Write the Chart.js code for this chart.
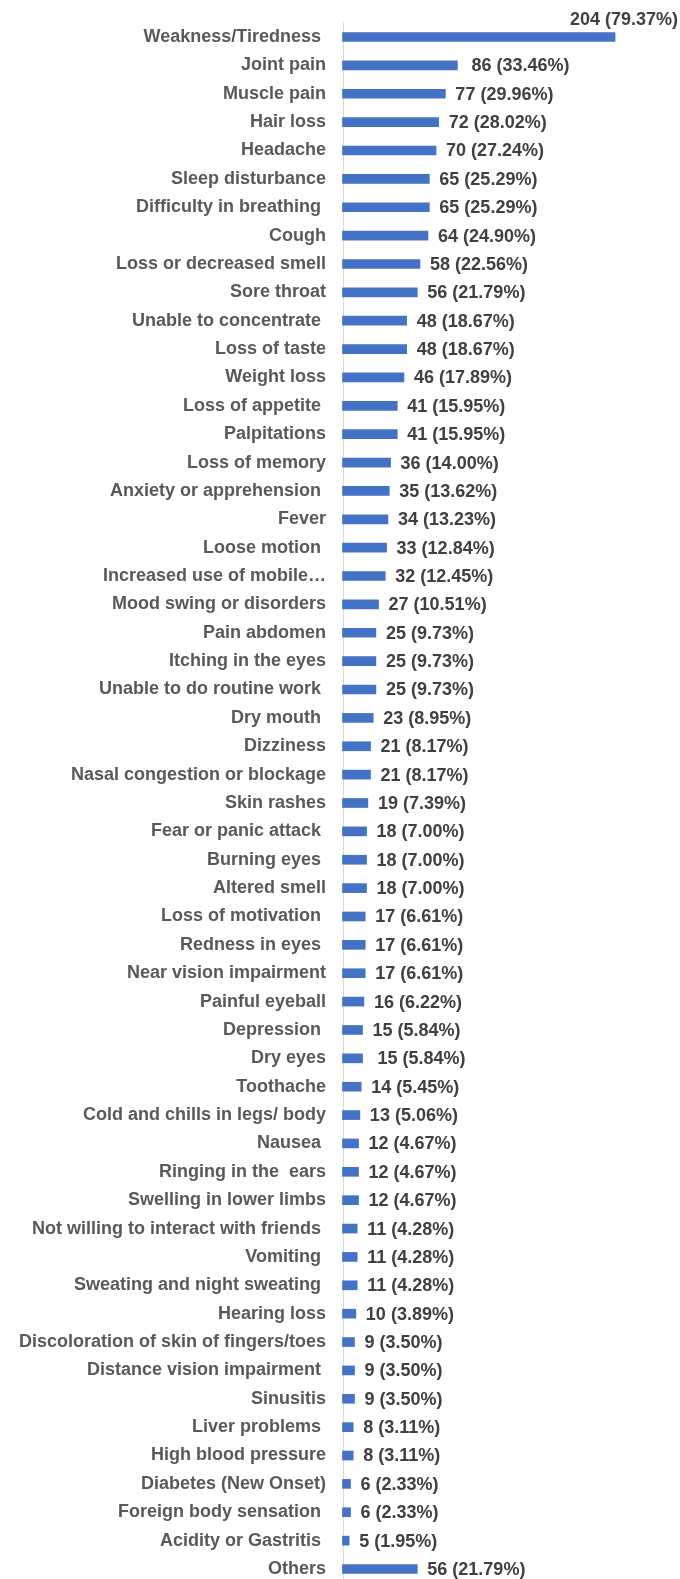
<!DOCTYPE html>
<html>
<head>
<meta charset="utf-8">
<script src="https://cdn.jsdelivr.net/npm/chart.js@4"></script>
<style>
html,body{margin:0;padding:0;background:#fff;}
#wrap{width:680px;height:1579px;position:relative;}
</style>
</head>
<body>
<div id="wrap"><canvas id="c" width="680" height="1579"></canvas></div>
<script>
const categories = [
  "Weakness/Tiredness ","Joint pain","Muscle pain","Hair loss","Headache","Sleep disturbance",
  "Difficulty in breathing ","Cough","Loss or decreased smell","Sore throat","Unable to concentrate ",
  "Loss of taste","Weight loss","Loss of appetite ","Palpitations","Loss of memory",
  "Anxiety or apprehension ","Fever","Loose motion ","Increased use of mobile\u2026","Mood swing or disorders",
  "Pain abdomen","Itching in the eyes","Unable to do routine work ","Dry mouth ","Dizziness",
  "Nasal congestion or blockage","Skin rashes","Fear or panic attack ","Burning eyes ","Altered smell",
  "Loss of motivation ","Redness in eyes ","Near vision impairment","Painful eyeball","Depression ",
  "Dry eyes","Toothache","Cold and chills in legs/ body","Nausea ","Ringing in the  ears",
  "Swelling in lower limbs","Not willing to interact with friends ","Vomiting ","Sweating and night sweating ","Hearing loss",
  "Discoloration of skin of fingers/toes","Distance vision impairment ","Sinusitis","Liver problems ","High blood pressure",
  "Diabetes (New Onset)","Foreign body sensation ","Acidity or Gastritis ","Others"
];
const counts = [
  204,86,77,72,70,65,65,64,58,56,48,48,46,41,41,36,35,34,33,32,27,25,25,25,23,21,21,19,18,18,18,
  17,17,17,16,15,15,14,13,12,12,12,11,11,11,10,9,9,9,8,8,6,6,5,56
];
const percents = [
  "79.37","33.46","29.96","28.02","27.24","25.29","25.29","24.90","22.56","21.79","18.67","18.67",
  "17.89","15.95","15.95","14.00","13.62","13.23","12.84","12.45","10.51","9.73","9.73","9.73","8.95",
  "8.17","8.17","7.39","7.00","7.00","7.00","6.61","6.61","6.61","6.22","5.84","5.84","5.45","5.06",
  "4.67","4.67","4.67","4.28","4.28","4.28","3.89","3.50","3.50","3.50","3.11","3.11","2.33","2.33",
  "1.95","21.79"
];
const xMax = 250;

const FONT = "'Liberation Sans', Arial, sans-serif";

const axisLine = {
  id: 'axisLine',
  beforeDatasetsDraw(chart) {
    const ctx = chart.ctx, x = chart.scales.x.getPixelForValue(0);
    ctx.save();
    ctx.strokeStyle = '#d9d9d9';
    ctx.lineWidth = 1;
    ctx.beginPath();
    ctx.moveTo(Math.round(x) + 0.5, 22);
    ctx.lineTo(Math.round(x) + 0.5, 1579);
    ctx.stroke();
    ctx.restore();
  }
};

const dataLabels = {
  id: 'dataLabels',
  afterDatasetsDraw(chart) {
    const ctx = chart.ctx;
    const meta = chart.getDatasetMeta(0);
    ctx.save();
    ctx.font = "bold 18px " + FONT;
    ctx.fillStyle = '#404040';
    ctx.textBaseline = 'middle';
    meta.data.forEach((bar, i) => {
      const txt = counts[i] + ' (' + percents[i] + '%)';
      if (i === 0) {
        ctx.textAlign = 'right';
        ctx.fillText(txt, 678, bar.y - 17);
      } else {
        ctx.textAlign = 'left';
        let off = 10;
        if (i === 1) off = 14;
        if (i === 36) off = 15;
        ctx.fillText(txt, bar.x + off, bar.y + 1);
      }
    });
    ctx.restore();
  }
};

new Chart(document.getElementById('c'), {
  type: 'bar',
  data: {
    labels: categories,
    datasets: [{
      data: counts,
      backgroundColor: '#4472C4',
      barThickness: 9,
      clip: false
    }]
  },
  options: {
    indexAxis: 'y',
    responsive: false,
    animation: false,
    devicePixelRatio: 1,
    layout: { padding: { top: 37, bottom: 10, right: 3.5, left: 0 } },
    plugins: { legend: { display: false }, tooltip: { enabled: false } },
    scales: {
      x: {
        display: false,
        min: 0,
        max: xMax
      },
      y: {
        offset: false,
        grid: { display: false, drawTicks: false },
        border: { display: false },
        ticks: {
          autoSkip: false,
          padding: 16.5,
          color: '#595959',
          font: { family: FONT, size: 18, weight: 'bold' }
        },
        afterFit(scale) {
          scale.width = 342.5;
          scale.paddingTop = 0;
          scale.paddingBottom = 0;
        }
      }
    }
  },
  plugins: [axisLine, dataLabels]
});
</script>
</body>
</html>
